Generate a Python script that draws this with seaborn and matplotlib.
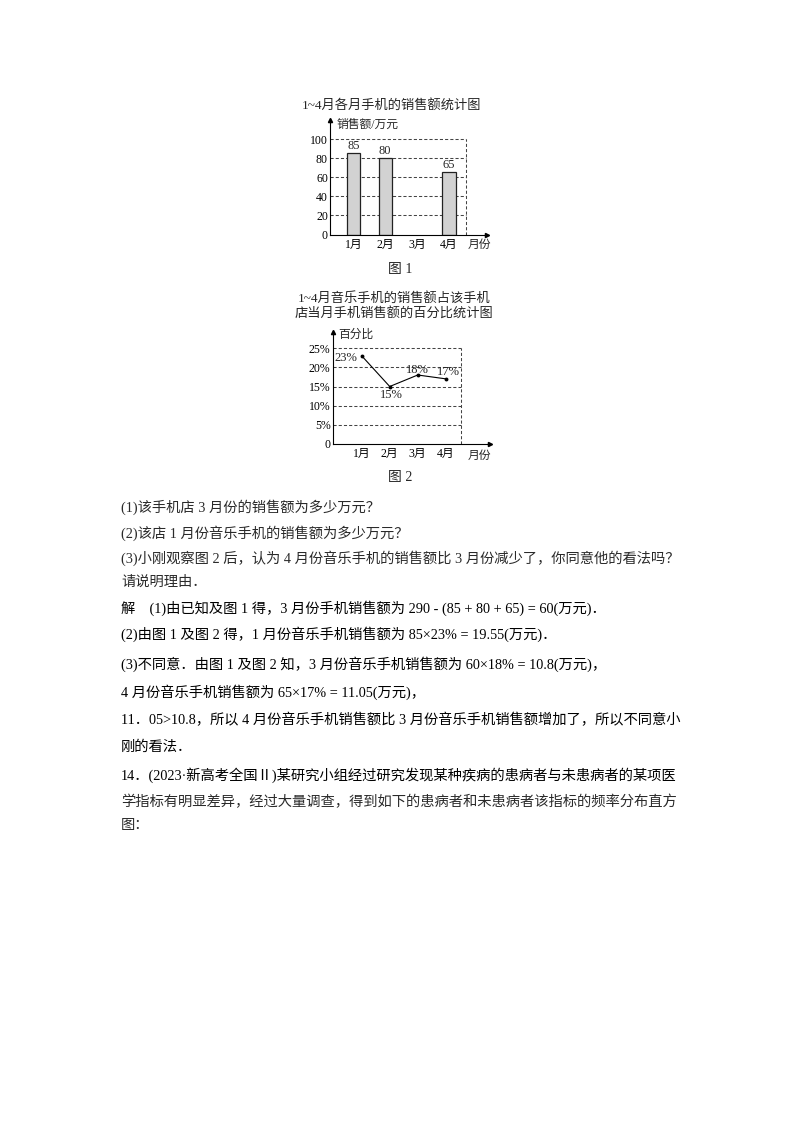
import matplotlib
matplotlib.use("Agg")
import matplotlib.pyplot as plt
import seaborn as sns
import pandas as pd
import numpy as np

sns.set_theme(style="white")
plt.rcParams["font.family"] = ["Liberation Serif", "Noto Sans CJK SC", "DejaVu Sans"]
plt.rcParams["axes.unicode_minus"] = False

# data
months = ["1月", "2月", "3月", "4月"]
sales = [85, 80, np.nan, 65]           # 万元, 3月 not given
sales_ticks = [0, 20, 40, 60, 80, 100]
pct = [23, 15, 18, 17]                 # %
pct_labels = ["23%", "15%", "18%", "17%"]
pct_ticks = [0, 5, 10, 15, 20, 25]
pct_tick_labels = ["0", "5%", "10%", "15%", "20%", "25%"]

body_lines = [
    "(1)该手机店 3 月份的销售额为多少万元？",
    "(2)该店 1 月份音乐手机的销售额为多少万元？",
    "(3)小刚观察图 2 后，认为 4 月份音乐手机的销售额比 3 月份减少了，你同意他的看法吗？",
    "请说明理由．",
    "解　(1)由已知及图 1 得，3 月份手机销售额为 290 - (85 + 80 + 65) = 60(万元)．",
    "(2)由图 1 及图 2 得，1 月份音乐手机销售额为 85×23% = 19.55(万元)．",
    "(3)不同意．由图 1 及图 2 知，3 月份音乐手机销售额为 60×18% = 10.8(万元)，",
    "4 月份音乐手机销售额为 65×17% = 11.05(万元)，",
    "11．05>10.8，所以 4 月份音乐手机销售额比 3 月份音乐手机销售额增加了，所以不同意小",
    "刚的看法．",
    "14．(2023·新高考全国Ⅱ)某研究小组经过研究发现某种疾病的患病者与未患病者的某项医",
    "学指标有明显差异，经过大量调查，得到如下的患病者和未患病者该指标的频率分布直方",
    "图：",
]
body_y = [507, 533, 558, 582, 608, 634, 664, 692, 720, 747, 775, 802, 826]

W, H = 800, 1132
fig = plt.figure(figsize=(8, 11.32), dpi=100)
fig.patch.set_facecolor("white")


def px_axes(left, top, right, bottom):
    return fig.add_axes([left / W, 1 - bottom / H, (right - left) / W, (bottom - top) / H])


def ftext(x, y, s, **kw):
    fig.text(x / W, 1 - y / H, s, **kw)


def style_axes(ax):
    for side in ["top", "right"]:
        ax.spines[side].set_visible(False)
    for side in ["left", "bottom"]:
        ax.spines[side].set_color("black")
        ax.spines[side].set_linewidth(0.8)
    ax.set_facecolor("none")
    ax.plot(1, 0, ">", color="black", ms=3, transform=ax.transAxes, clip_on=False)
    ax.plot(0, 1, "^", color="black", ms=3, transform=ax.transAxes, clip_on=False)
    ax.tick_params(axis="y", direction="in", length=2.5, width=0.6, pad=1.5,
                   labelsize=8.5, colors="black")
    ax.tick_params(axis="x", length=0, pad=3, labelsize=8.5, colors="black")
    ax.set_xlabel("")
    ax.set_ylabel("")


grid_kw = dict(colors="#444444", linestyles=(0, (3, 2)), lw=0.75, zorder=0)

# ---------- 图1 ----------
df1 = pd.DataFrame({"month": months, "sales": sales}).dropna()
ax1 = px_axes(330, 120, 487, 234.5)
sns.barplot(data=df1, x="month", y="sales", order=months, width=0.42,
            color="#d2d2d2", edgecolor="#222222", linewidth=0.9, saturation=1, ax=ax1)
ax1.set_xlim(-0.73, 4.19)
ax1.set_ylim(0, 120)
right1 = 3.52
ax1.hlines(sales_ticks[1:], -0.73, right1, **grid_kw)
ax1.vlines(right1, 0, 100, **grid_kw)
ax1.set_yticks(sales_ticks)
ax1.set_yticklabels([str(t) for t in sales_ticks])
style_axes(ax1)
for i, v in enumerate(sales):
    if not np.isnan(v):
        ax1.text(i, v + 1.5, f"{v:.0f}", ha="center", va="bottom", fontsize=9)

ftext(392, 105, "1~4月各月手机的销售额统计图", ha="center", va="center", fontsize=9.5)
ftext(337, 125, "销售额/万元", ha="left", va="center", fontsize=8.5)
ftext(479, 245, "月份", ha="center", va="center", fontsize=8.5)
ftext(400, 270, "图 1", ha="center", va="center", fontsize=10)

# ---------- 图2 ----------
df2 = pd.DataFrame({"pos": np.arange(1, len(months) + 1), "pct": pct})
ax2 = px_axes(332.7, 331.7, 490, 444)
sns.lineplot(data=df2, x="pos", y="pct", color="black", lw=0.8, marker="o",
             markersize=2.8, markeredgewidth=0, ax=ax2)
ax2.set_xlim(-0.036, 5.58)
ax2.set_ylim(0, 29.3)
right2 = 4.54
ax2.hlines(pct_ticks[1:], -0.036, right2, **grid_kw)
ax2.vlines(right2, 0, 25, **grid_kw)
ax2.set_yticks(pct_ticks)
ax2.set_yticklabels(pct_tick_labels)
ax2.set_xticks(df2["pos"])
ax2.set_xticklabels(months)
style_axes(ax2)
offsets = [(-16, -2), (2, -8), (0, 5), (3, 7)]
for x, y, lab, off in zip(df2["pos"], pct, pct_labels, offsets):
    ax2.annotate(lab, (x, y), xytext=off, textcoords="offset pixels",
                 ha="center", va="center", fontsize=9)

ftext(394, 298, "1~4月音乐手机的销售额占该手机", ha="center", va="center", fontsize=9.5)
ftext(394, 313, "店当月手机销售额的百分比统计图", ha="center", va="center", fontsize=9.5)
ftext(338, 335, "百分比", ha="left", va="center", fontsize=8.5)
ftext(479, 456, "月份", ha="center", va="center", fontsize=8.5)
ftext(400, 478, "图 2", ha="center", va="center", fontsize=10)

# ---------- 正文 ----------
for i, (s, y) in enumerate(zip(body_lines, body_y)):
    color = "#2a2a2a" if i in (0, 1, 2, 3, 11, 12) else "black"
    ftext(121, y, s, ha="left", va="center", fontsize=10.3, color=color)

fig.savefig("out.png", dpi=100, facecolor="white")
